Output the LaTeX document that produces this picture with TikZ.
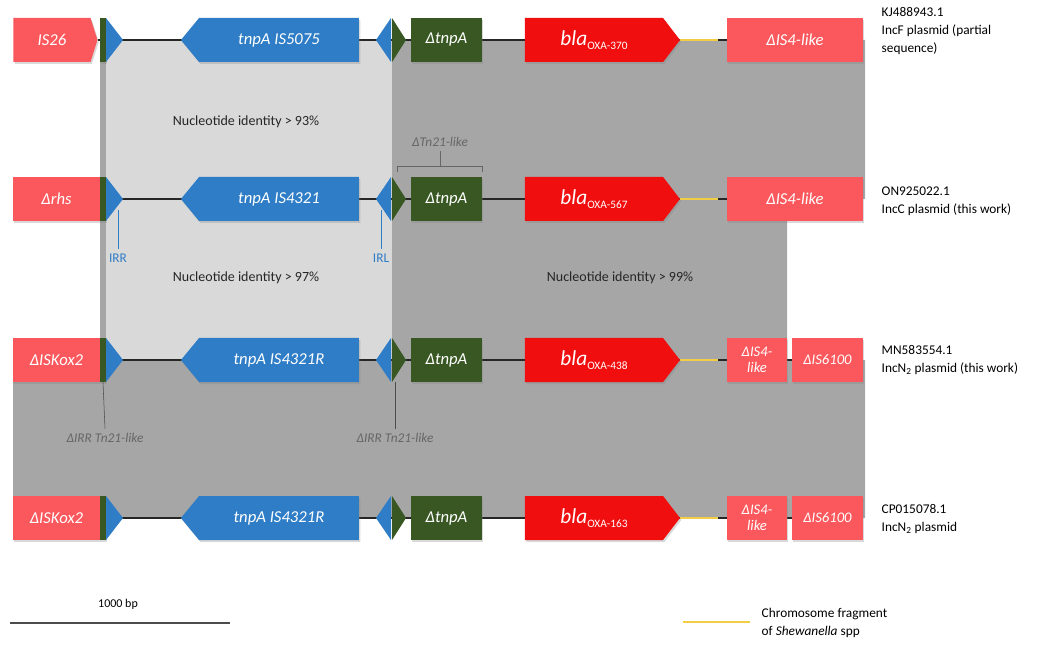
\documentclass[tikz,border=0pt]{standalone}
\usepackage{fontspec}
\setmainfont{Carlito}
\usetikzlibrary{positioning}
\usetikzlibrary{shapes.symbols}
\usetikzlibrary{shadows}
\usetikzlibrary{backgrounds}

\definecolor{isred}{RGB}{250,88,92}
\definecolor{blared}{RGB}{240,14,14}
\definecolor{tnblue}{RGB}{46,125,198}
\definecolor{tngreen}{RGB}{56,87,35}
\definecolor{lightgr}{RGB}{217,217,217}
\definecolor{darkgr}{RGB}{166,166,166}
\definecolor{chromo}{RGB}{242,205,70}

\begin{document}
\begin{tikzpicture}[x=0.75pt,y=-0.75pt,
	gene/.style={inner sep=0pt,minimum height=33pt,text=white,font=\fontsize{12.5}{13}\selectfont\itshape,
		drop shadow={shadow xshift=1pt,shadow yshift=-1.5pt,opacity=0.3}},
	isbox/.style={gene,fill=isred},
	tnbox/.style={gene,fill=tnblue,signal,signal to=west,signal pointer angle=101},
	grbox/.style={gene,fill=tngreen},
	blabox/.style={gene,fill=blared,signal,signal to=east,signal pointer angle=105},
	backbone/.style={line width=1.3pt,black!85},
	chromoline/.style={line width=1.3pt,chromo},
	acc/.style={anchor=west,align=left,font=\fontsize{10}{13.5}\selectfont},
	ident/.style={font=\fontsize{10.5}{12}\selectfont,text=black!85},
	irlab/.style={font=\fontsize{10}{12}\selectfont,text=tnblue},
	tnlab/.style={font=\fontsize{10}{12}\selectfont\itshape,text=black!60}]

	\useasboundingbox (0,0) rectangle (1045,648);

	% левые элементы
	\node[isbox,signal,signal to=east,signal pointer angle=145,minimum width=63pt] (lb1) at (52,40) {IS26};
	\node[isbox,minimum width=65.25pt] (lb2) at (56.5,199) {Δrhs};
	\node[isbox,minimum width=65.25pt] (lb3) at (56.5,360) {ΔISKox2};
	\node[isbox,minimum width=65.25pt] (lb4) at (56.5,518) {ΔISKox2};

	\foreach \y/\n/\tn in {40/1/IS5075,199/2/IS4321,360/3/IS4321R,518/4/IS4321R}{
		\node[grbox,minimum width=4.5pt] (bar\n) at (103,\y) {};
		\fill[tnblue] (106,\y-22) -- (123,\y) -- (106,\y+22) -- cycle;		% IRR
		\node[tnbox,minimum width=133.5pt] (tnp\n) at (279,\y) {tnpA \tn};
		\fill[tnblue] (391,\y-22) -- (376,\y) -- (391,\y+22) -- cycle;		% IRL
		\fill[tngreen] (392,\y-22) -- (406,\y) -- (392,\y+22) -- cycle;
		\node[grbox,minimum width=53.25pt] (dtn\n) at (446.5,\y) {ΔtnpA};
		\coordinate (ch\n) at (718,\y);
	}
	\foreach \y/\n/\ox in {40/1/370,199/2/567,360/3/438,518/4/163}
		\node[blabox,minimum width=116.25pt] (bla\n) at (594,\y)
			{\fontsize{16}{16}\selectfont bla\raisebox{-3pt}{\upshape\fontsize{8.5}{9}\selectfont OXA-\ox}};

	% правые элементы
	\node[isbox,minimum width=102pt] (rb1) at (795,40) {ΔIS4-like};
	\node[isbox,minimum width=102pt] (rb2) at (795,199) {ΔIS4-like};
	\foreach \y/\n in {360/3,518/4}{
		\node[isbox,minimum width=45pt,align=center,font=\fontsize{11}{12}\selectfont\itshape] (is4\n) at (757,\y) {ΔIS4-\\like};
		\node[isbox,minimum width=53.25pt,font=\fontsize{11}{12}\selectfont\itshape] (rb\n) at (827.5,\y) {ΔIS6100};
	}

	% области сходства
	\begin{scope}[on background layer]
		\fill[lightgr] (100,40) rectangle (392,360);
		\fill[darkgr] (100,40) rectangle (106,360);
		\fill[darkgr] (392,40) -- (865,40) -- (865,199) -- (787,199) -- (787,360) -- (865,360)
			-- (865,518) -- (13,518) -- (13,360) -- (392,360) -- cycle;
		\foreach \n in {1,...,4}{
			\draw[backbone] (lb\n.east) -- (rb\n.west);
			\draw[chromoline] (bla\n.east) -- (ch\n);						% фрагмент хромосомы
		}
	\end{scope}

	\node[acc,anchor=north west] (acc1) at (877,3) {KJ488943.1\\IncF plasmid (partial\\sequence)};
	\node[acc] (acc2) at (877,201) {ON925022.1\\IncC plasmid (this work)};
	\node[acc] (acc3) at (877,360) {MN583554.1\\IncN\textsubscript{2} plasmid (this work)};
	\node[acc] (acc4) at (877,519) {CP015078.1\\IncN\textsubscript{2} plasmid};

	\node[ident] (id1) at (246,122) {Nucleotide identity > 93\%};
	\node[ident] (id2) at (246,278) {Nucleotide identity > 97\%};
	\node[ident] (id3) at (620,278) {Nucleotide identity > 99\%};

	% метки
	\node[tnlab] (tn21) at (440,142) {ΔTn21-like};
	\coordinate (brl) at (397,172);
	\coordinate (brr) at (482,172);
	\draw[black!60] (brl) -- ++(0,-6) -| (brr);
	\draw[black!60] (tn21.south) -- (440,166);
	\node[irlab] (irr) at (118,258) {IRR};
	\draw[tnblue] (irr.north) -- (118,210);
	\node[irlab] (irl) at (381,258) {IRL};
	\draw[tnblue] (irl.north) -- (381,210);
	\node[tnlab] (dirr1) at (105,438) {ΔIRR Tn21-like};
	\draw[black!70] (dirr1.north) -- (103,382);
	\node[tnlab] (dirr2) at (395,438) {ΔIRR Tn21-like};
	\draw[black!70] (dirr2.north) -- (395,382);

	% легенда
	\node[font=\fontsize{9}{10}\selectfont] (sbl) at (118,604) {1000 bp};
	\coordinate (sb1) at (10,623);
	\coordinate (sb2) at (230,623);
	\draw[line width=1pt,black!70] (sb1) -- (sb2);
	\node[acc,font=\fontsize{10}{13}\selectfont] (chl) at (757,623) {Chromosome fragment\\of \textit{Shewanella} spp};
	\coordinate (chs) at (683,622);
	\draw[chromoline,line width=2pt] (chs) -- ++(67,0);
\end{tikzpicture}
\end{document}
